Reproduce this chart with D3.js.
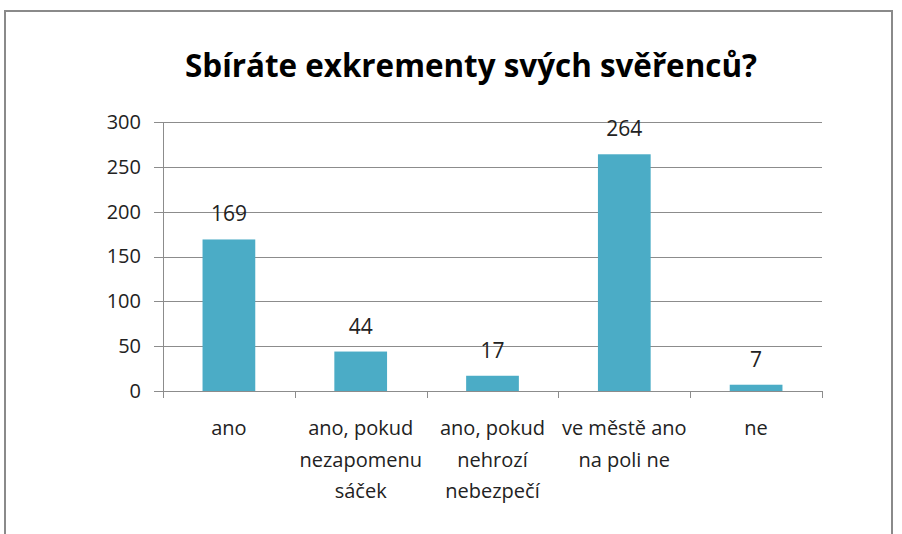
<!DOCTYPE html>
<html>
<head>
<meta charset="utf-8">
<title>Sbíráte exkrementy</title>
<script src="https://cdn.jsdelivr.net/npm/d3@7"></script>
<style>
body { margin: 0; background: #fff; }
.axis text { font-family: "Open Sans", sans-serif; font-size: 20px; fill: #222; }
.grid line { stroke: #8c8c8c; stroke-width: 1; }
</style>
</head>
<body>
<script>
var categories = [["ano"], ["ano, pokud", "nezapomenu", "sáček"], ["ano, pokud", "nehrozí", "nebezpečí"], ["ve městě ano", "na poli ne"], ["ne"]];
var values = [169, 44, 17, 264, 7];
var yTicks = [0, 50, 100, 150, 200, 250, 300];

var width = 902, height = 534;
var svg = d3.select("body").append("svg")
	.attr("width", width)
	.attr("height", height);

// frame
svg.append("rect")
	.attr("x", 5).attr("y", 11)
	.attr("width", 887).attr("height", 540)
	.attr("fill", "none")
	.attr("stroke", "#8a8a8a")
	.attr("stroke-width", 2);

svg.append("text")
	.attr("x", 471).attr("y", 77)
	.attr("text-anchor", "middle")
	.attr("font-family", "Open Sans, sans-serif")
	.attr("font-weight", "bold")
	.attr("font-size", 33)
	.attr("textLength", 572)
	.attr("lengthAdjust", "spacingAndGlyphs")
	.attr("fill", "#000")
	.text("Sbíráte exkrementy svých svěřenců?");

var x = d3.scaleBand()
	.domain(d3.range(values.length))
	.range([163, 822])
	.padding(0);
var y = d3.scaleLinear()
	.domain([0, 300])
	.range([391, 122]);

// gridlines
svg.append("g")
	.attr("class", "grid")
	.selectAll("line")
	.data(yTicks)
	.enter()
	.append("line")
	.attr("x1", 154).attr("x2", 822)
	.attr("y1", function(d){ return Math.round(y(d)) + 0.5; })
	.attr("y2", function(d){ return Math.round(y(d)) + 0.5; });

// y axis line
svg.append("line")
	.attr("x1", 163.5).attr("x2", 163.5)
	.attr("y1", 122).attr("y2", 391)
	.attr("stroke", "#8c8c8c");

var axisY = d3.axisLeft(y).tickValues(yTicks).tickSize(0).tickPadding(22);
svg.append("g")
	.attr("class", "axis")
	.attr("transform", "translate(163,0)")
	.call(axisY)
	.call(function(g){ g.select(".domain").remove(); });

// category ticks
var xTickPos = d3.range(values.length + 1).map(function(i){
	return i < values.length ? x(i) : x(values.length - 1) + x.bandwidth();
});
svg.selectAll(".xtick")
	.data(xTickPos)
	.enter()
	.append("line")
	.attr("class", "xtick")
	.attr("x1", function(d){ return Math.round(d) + 0.5; })
	.attr("x2", function(d){ return Math.round(d) + 0.5; })
	.attr("y1", 391).attr("y2", 398)
	.attr("stroke", "#8c8c8c");

var barW = x.bandwidth() * 0.4;
svg.selectAll(".bar")
	.data(values)
	.enter()
	.append("rect")
	.attr("class", "bar")
	.attr("x", function(d, i){ return x(i) + (x.bandwidth() - barW) / 2; })
	.attr("y", function(d){ return y(d); })
	.attr("width", barW)
	.attr("height", function(d){ return y(0) - y(d); })
	.attr("fill", "#4bacc6");

svg.selectAll(".val")
	.data(values)
	.enter()
	.append("text")
	.attr("class", "val")
	.attr("x", function(d, i){ return x(i) + x.bandwidth() / 2; })
	.attr("y", function(d){ return y(d) - 18; })
	.attr("text-anchor", "middle")
	.attr("font-family", "Open Sans, sans-serif")
	.attr("font-size", 21)
	.attr("fill", "#222")
	.text(function(d){ return d; });

var labels = svg.selectAll(".cat")
	.data(categories)
	.enter()
	.append("text")
	.attr("class", "cat")
	.attr("text-anchor", "middle")
	.attr("font-family", "Open Sans, sans-serif")
	.attr("font-size", 20)
	.attr("fill", "#222");
labels.each(function(lines, i){
	var t = d3.select(this);
	lines.forEach(function(s, k){
		t.append("tspan")
			.attr("x", x(i) + x.bandwidth() / 2)
			.attr("y", 435 + k * 31.7)
			.text(s);
	});
});
</script>
</body>
</html>
